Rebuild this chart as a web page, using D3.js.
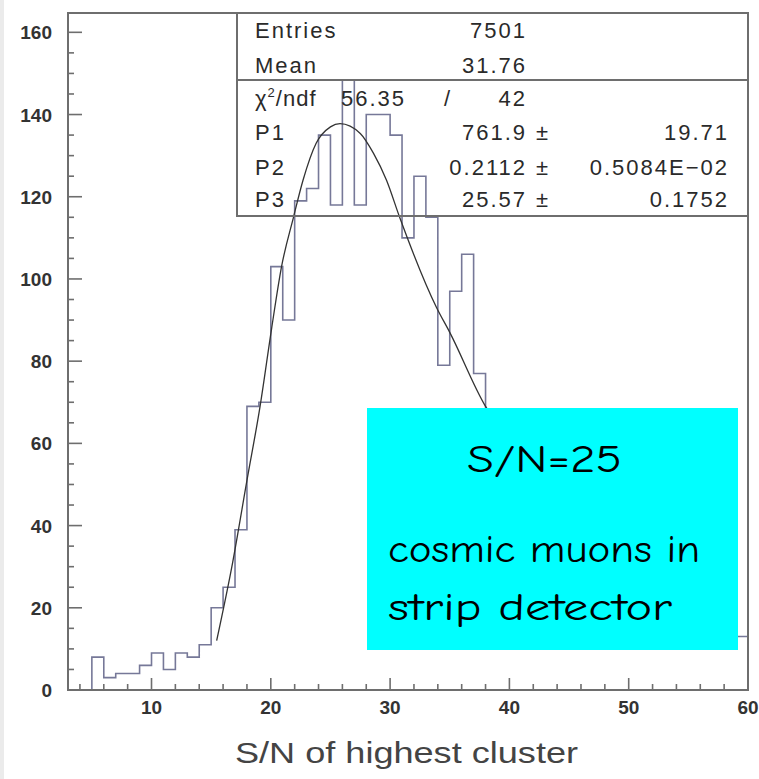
<!DOCTYPE html>
<html>
<head>
<meta charset="utf-8">
<script src="https://cdn.jsdelivr.net/npm/d3@7"></script>
<style>
  body { margin: 0; background: #fff; }
  svg { display: block; }
</style>
</head>
<body>
<script>
const width = 759
const height = 779

// bin lower edges (width 1) and counts
const binStart = [5, 6, 7, 8, 9, 10, 11, 12, 13, 14, 15, 16, 17, 18, 19, 20, 21, 22, 23, 24, 25, 26, 27, 28, 29,
  30, 31, 32, 33, 34, 35, 36, 37, 38, 39, 40, 41, 42, 43, 44, 45, 46, 47, 48, 49, 50, 51, 52, 53, 54, 55, 56, 57, 58, 59]
const counts = [8, 3, 4, 4, 6, 9, 5, 9, 8, 11, 20, 25, 39, 69, 70, 103, 90, 119, 122, 135, 118, 149, 118, 140, 140,
  135, 110, 125, 115, 79, 97, 106, 77, 60, 58, 52, 50, 45, 44, 40, 38, 35, 33, 30, 29, 27, 25, 24, 22, 21, 20, 19, 18, 18, 13]

// fit curve
const fitX = [15.46, 16.8, 18.0, 19.1, 20.07, 20.9, 21.9, 22.7, 23.8, 25.0, 25.8, 27.5, 28.6, 29.7, 30.8, 33.9, 35.0, 38.0, 40.0]
const fitY = [12, 31, 51, 69, 88, 103, 115, 124, 133, 137, 137.8, 135.4, 130.6, 124, 115, 93, 87, 69, 61]

const yTicks = [0, 20, 40, 60, 80, 100, 120, 140, 160]
const xTicks = [10, 20, 30, 40, 50, 60]

const statsRows = [
  { label: 'Entries', value: '7501' },
  { label: 'Mean', value: '31.76' }
]
const fitRows = [
  { label: 'P1', value: '761.9', err: '19.71' },
  { label: 'P2', value: '0.2112', err: '0.5084E\u221202' },
  { label: 'P3', value: '25.57', err: '0.1752' }
]

const svg = d3.select('body').append('svg')
  .attr('width', width)
  .attr('height', height)

svg.append('rect').attr('width', width).attr('height', height).attr('fill', '#fff')
svg.append('rect').attr('width', 4).attr('height', height).attr('fill', '#ebebeb')

const x = d3.scaleLinear().domain([3, 60]).range([68, 748])
const y = d3.scaleLinear().domain([0, 164.7]).range([690, 13])

const frameColor = '#6e6e6e'
const font = "'Liberation Sans', Arial, sans-serif"

// histogram outline
let pts = [[binStart[0], 0]]
binStart.forEach((b, i) => pts.push([b, counts[i]]))
pts.push([binStart[binStart.length - 1] + 1, counts[counts.length - 1]])

const histLine = d3.line()
  .x((d) => x(d[0]))
  .y((d) => y(d[1]))
  .curve(d3.curveStepAfter)

svg.append('path')
  .attr('d', histLine(pts))
  .attr('fill', 'none')
  .attr('stroke', '#767898')
  .attr('stroke-width', 1.6)

// fit
const fitLine = d3.line()
  .x((d, i) => x(fitX[i]))
  .y((d, i) => y(d))
  .curve(d3.curveMonotoneX)

svg.append('path')
  .attr('d', fitLine(fitY))
  .attr('fill', 'none')
  .attr('stroke', '#333')
  .attr('stroke-width', 1.3)

// y ticks
const minorY = d3.range(0, 165, 5)
svg.append('g').selectAll('line')
  .data(minorY)
  .enter()
  .append('line')
  .attr('x1', 68)
  .attr('x2', (d) => d % 20 === 0 ? 82 : 74)
  .attr('y1', (d) => y(d))
  .attr('y2', (d) => y(d))
  .attr('stroke', frameColor)
  .attr('stroke-width', 1.6)

svg.append('g').selectAll('text')
  .data(yTicks)
  .enter()
  .append('text')
  .attr('x', 52)
  .attr('y', (d) => y(d) + 7)
  .attr('text-anchor', 'end')
  .attr('font-family', font)
  .attr('font-size', 19)
  .attr('font-weight', 'bold')
  .attr('fill', '#333')
  .text((d) => d)

// x ticks
const minorX = d3.range(4, 60, 2)
svg.append('g').selectAll('line')
  .data(minorX)
  .enter()
  .append('line')
  .attr('x1', (d) => x(d))
  .attr('x2', (d) => x(d))
  .attr('y1', 690)
  .attr('y2', (d) => d % 10 === 0 ? 678 : 684)
  .attr('stroke', frameColor)
  .attr('stroke-width', 1.6)

svg.append('g').selectAll('text')
  .data(xTicks)
  .enter()
  .append('text')
  .attr('x', (d) => x(d))
  .attr('y', 714)
  .attr('text-anchor', 'middle')
  .attr('font-family', font)
  .attr('font-size', 19)
  .attr('font-weight', 'bold')
  .attr('fill', '#333')
  .text((d) => d)

svg.append('text')
  .attr('x', 235)
  .attr('y', 763)
  .attr('font-family', font)
  .attr('font-size', 30)
  .attr('fill', '#444')
  .attr('textLength', 343)
  .attr('lengthAdjust', 'spacingAndGlyphs')
  .text('S/N of highest cluster')

// frame
svg.append('rect')
  .attr('x', 68).attr('y', 13)
  .attr('width', 680).attr('height', 677)
  .attr('fill', 'none')
  .attr('stroke', frameColor)
  .attr('stroke-width', 2)

// stats box
const box = svg.append('g')
box.append('rect')
  .attr('x', 237).attr('y', 13).attr('width', 511).attr('height', 67)
  .attr('fill', '#fff').attr('stroke', frameColor).attr('stroke-width', 2)
box.append('rect')
  .attr('x', 237).attr('y', 80).attr('width', 511).attr('height', 136)
  .attr('fill', 'none').attr('stroke', frameColor).attr('stroke-width', 2)

const txt = (sx, sy, s, anchor) => box.append('text')
  .attr('x', sx).attr('y', sy)
  .attr('text-anchor', anchor || 'start')
  .attr('font-family', font)
  .attr('font-size', 22)
  .attr('letter-spacing', 2)
  .attr('fill', '#2a2a2a')
  .text(s)

statsRows.forEach((r, i) => {
  txt(255, 38 + i * 35, r.label)
  txt(527, 38 + i * 35, r.value, 'end')
})

const chi = box.append('text')
  .attr('x', 255).attr('y', 106)
  .attr('font-family', font)
  .attr('font-size', 22)
  .attr('letter-spacing', 1)
  .attr('fill', '#2a2a2a')
chi.append('tspan').text('\u03c7')
chi.append('tspan').attr('dy', -9).attr('font-size', 13).text('2')
chi.append('tspan').attr('dy', 9).text('/ndf')
txt(341, 106, '56.35')
txt(448, 106, '/', 'middle')
txt(527, 106, '42', 'end')

const fitBase = [140, 175, 207]
fitRows.forEach((r, i) => {
  txt(255, fitBase[i], r.label)
  txt(527, fitBase[i], r.value, 'end')
  txt(543, fitBase[i], '\u00b1', 'middle')
  txt(729, fitBase[i], r.err, 'end')
})

// annotation
svg.append('rect')
  .attr('x', 367).attr('y', 408)
  .attr('width', 371).attr('height', 242)
  .attr('fill', '#00ffff')

const note = "'Comic Sans MS', 'Comic Neue', 'Noto Sans', sans-serif"
svg.append('text')
  .attr('x', 467).attr('y', 472)
  .attr('font-family', note).attr('font-size', 38)
  .attr('textLength', 155).attr('lengthAdjust', 'spacingAndGlyphs')
  .text('S/N=25')
svg.append('text')
  .attr('x', 388).attr('y', 562)
  .attr('font-family', note).attr('font-size', 38)
  .attr('textLength', 312).attr('lengthAdjust', 'spacingAndGlyphs')
  .text('cosmic muons in')
svg.append('text')
  .attr('x', 388).attr('y', 620)
  .attr('font-family', note).attr('font-size', 38)
  .attr('textLength', 284).attr('lengthAdjust', 'spacingAndGlyphs')
  .text('strip detector')
</script>
</body>
</html>
